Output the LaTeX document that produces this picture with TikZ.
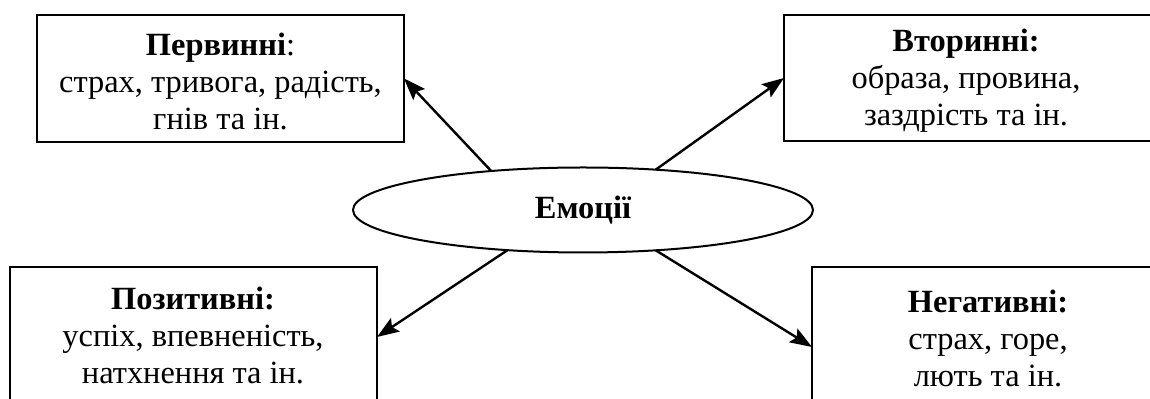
\documentclass[tikz,border=0pt]{standalone}
\usepackage{fontspec}
\setmainfont{Liberation Serif}
\usetikzlibrary{shapes.geometric,arrows.meta}
\tikzset{
  box/.style={draw, line width=1pt, minimum width=183.5pt, inner sep=0pt, outer sep=0pt},
  lbl/.style={align=center, inner sep=0pt, font=\fontsize{16.2pt}{18.5pt}\selectfont},
  oval/.style={ellipse, draw, line width=1pt, minimum width=230pt, minimum height=42.5pt, inner sep=0pt, outer sep=0pt, font=\fontsize{16.2pt}{18.5pt}\selectfont\bfseries},
  arr/.style={line width=1.2pt, -{Stealth[length=11pt,width=8pt,inset=2pt]}}
}
\begin{document}
\begin{tikzpicture}[x=0.5pt,y=-0.5pt]
\useasboundingbox (0,0) rectangle (1150,399);
\clip (0,0) rectangle (1150,399);
\node[box, minimum height=63.5pt] (perv) at (220.5,78.5) {};
\node[box, minimum height=63pt] (vtor) at (967.5,78) {};
\node[box, minimum height=70pt] (pozyt) at (193.5,337) {};
\node[box, minimum height=80pt] (neg) at (995.5,347) {};
\node[oval] (em) at (583,210) {Емоції};
\node[lbl] (pervt) at (220.5,81) {\textbf{Первинні}:\\страх, тривога, радість,\\гнів та ін.};
\node[lbl] (vtort) at (966,81) {\textbf{Вторинні:}\\образа, провина,\\заздрість та ін.};
\node[lbl] (pozytt) at (193,335) {\textbf{Позитивні:}\\успіх, впевненість,\\натхнення та ін.};
\node[lbl] (negt) at (988,338) {\textbf{Негативні:}\\страх, горе,\\лють та ін.};
\draw[arr] (em.157) -- (perv.east);
\draw[arr] (em.29) -- (vtor.west);
\draw[arr] (em.208) -- (pozyt.east);
\draw[arr] (em.331) -- (neg.west);
\end{tikzpicture}
\end{document}
